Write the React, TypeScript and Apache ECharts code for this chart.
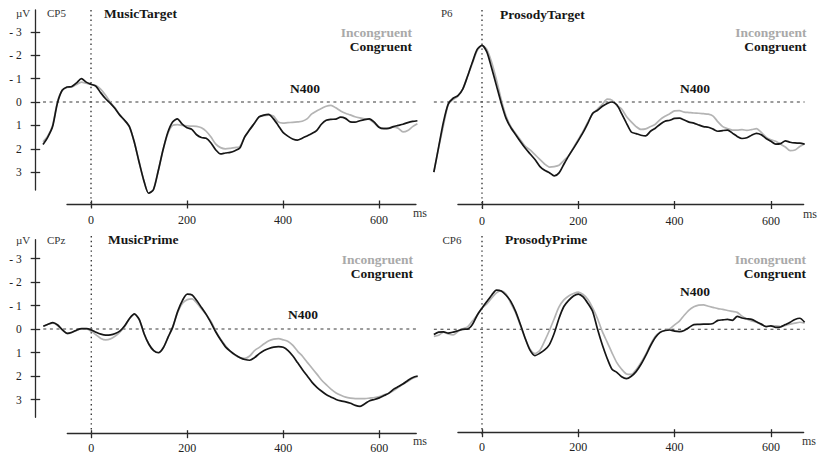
import React, { useEffect, useRef } from "react";
import * as echarts from "echarts";

// ---- sampling of every waveform: -100 ms onward, every 10 ms ----
const T_START = -100;
const T_STEP = 10;

// ---- tick labels ----
const X_TICKS = [0, 200, 400, 600];
const Y_TICKS = [-3, -2, -1, 0, 1, 2, 3];

// ---- MusicTarget (CP5), µV, -100..680 ms ----
const MUSIC_TARGET_CONG = [
  1.82, 1.5, 1.05, 0.05, -0.5, -0.64, -0.66, -0.82, -1.0, -0.85,
  -0.76, -0.68, -0.4, -0.15, 0.05, 0.28, 0.56, 0.78, 1.05, 1.7,
  2.55, 3.35, 3.9, 3.75, 2.95, 2.05, 1.3, 0.85, 0.72, 0.95,
  1.1, 1.17, 1.4, 1.52, 1.55, 1.75, 2.05, 2.22, 2.18, 2.15,
  2.08, 1.97, 1.5, 1.2, 0.92, 0.64, 0.56, 0.53, 0.72, 1.0,
  1.3, 1.46, 1.58, 1.63, 1.55, 1.45, 1.35, 1.22, 0.95, 0.78,
  0.74, 0.73, 0.65, 0.7, 0.85, 0.86, 0.8, 0.75, 0.72, 0.86,
  1.08, 1.14, 1.13, 1.05, 1.0, 0.95, 0.88, 0.83, 0.8,
];
const MUSIC_TARGET_INCONG = [
  1.7, 1.45, 1.0, 0.0, -0.5, -0.62, -0.64, -0.75, -0.85, -0.8,
  -0.75, -0.7, -0.55, -0.3, 0.0, 0.25, 0.55, 0.8, 1.05, 1.7,
  2.55, 3.35, 3.9, 3.75, 2.95, 2.05, 1.35, 1.0, 0.97, 1.0,
  1.02, 1.03, 1.04, 1.1, 1.25, 1.5, 1.8, 1.95, 2.0, 1.98,
  1.95, 1.9, 1.5, 1.2, 0.92, 0.64, 0.58, 0.56, 0.6, 0.85,
  0.9, 0.88, 0.87, 0.85, 0.82, 0.72, 0.51, 0.38, 0.28, 0.18,
  0.14, 0.25, 0.38, 0.48, 0.55, 0.63, 0.68, 0.72, 0.75, 0.9,
  1.08, 1.12, 1.11, 1.07, 1.12, 1.28, 1.22, 1.05, 0.93,
];

// ---- ProsodyTarget (P6), µV, -100..670 ms ----
const PROSODY_TARGET_CONG = [
  3.0, 1.92, 0.85, 0.08, -0.16, -0.27, -0.55, -1.1, -1.7, -2.25,
  -2.42, -2.14, -1.45, -0.7, 0.05, 0.7, 1.1, 1.4, 1.7, 1.98,
  2.22, 2.46, 2.75, 2.92, 3.02, 3.16, 3.03, 2.66, 2.3, 1.98,
  1.65, 1.3, 0.9, 0.48, 0.35, 0.18, 0.06, 0.0, 0.12, 0.5,
  0.9, 1.28, 1.35, 1.42, 1.45, 1.25, 1.12, 0.95, 0.82, 0.78,
  0.7, 0.69, 0.77, 0.86, 0.9, 0.98, 1.05, 1.08, 1.16, 1.25,
  1.22, 1.2, 1.33, 1.47, 1.56, 1.53, 1.42, 1.34, 1.4, 1.56,
  1.68, 1.8, 1.78, 1.66, 1.72, 1.75, 1.76, 1.8,
];
const PROSODY_TARGET_INCONG = [
  3.0, 1.95, 1.0, 0.1, -0.1, -0.25, -0.55, -1.1, -1.65, -2.2,
  -2.42, -2.25, -1.7, -0.95, -0.1, 0.6, 1.05, 1.35, 1.62, 1.9,
  2.05, 2.25, 2.45, 2.65, 2.78, 2.76, 2.7, 2.5, 2.3, 1.95,
  1.6, 1.25, 0.85, 0.5, 0.3, 0.1, -0.12, -0.08, 0.15, 0.3,
  0.62, 0.85, 1.05, 1.17, 1.15, 1.05, 0.95, 0.75, 0.61, 0.5,
  0.38, 0.37, 0.43, 0.45, 0.47, 0.48, 0.5, 0.52, 0.6, 0.85,
  1.05, 1.14, 1.2, 1.2, 1.18, 1.21, 1.18, 1.14, 1.3, 1.5,
  1.61, 1.68, 1.8, 1.92, 2.08, 2.05, 1.9, 1.78,
];

// ---- MusicPrime (CPz), µV, -100..680 ms ----
const MUSIC_PRIME_CONG = [
  -0.12, -0.2, -0.27, -0.17, 0.04, 0.19, 0.14, 0.04, -0.02, -0.02,
  0.04, 0.14, 0.22, 0.26, 0.25, 0.19, 0.08, -0.15, -0.46, -0.64,
  -0.4, 0.2, 0.65, 0.92, 1.01, 0.8, 0.35, -0.1, -0.75, -1.22,
  -1.48, -1.45, -1.2, -0.9, -0.6, -0.24, 0.15, 0.48, 0.77, 0.95,
  1.1, 1.22, 1.3, 1.33, 1.22, 1.05, 0.92, 0.83, 0.77, 0.75,
  0.78, 0.92, 1.15, 1.44, 1.73, 2.0, 2.27, 2.48, 2.65, 2.8,
  2.9, 3.0, 3.06, 3.1, 3.16, 3.25, 3.29, 3.18, 3.05, 3.0,
  2.93, 2.83, 2.73, 2.56, 2.45, 2.33, 2.18, 2.06, 2.0,
];
const MUSIC_PRIME_INCONG = [
  -0.12, -0.2, -0.25, -0.15, 0.05, 0.2, 0.15, 0.05, 0.0, 0.0,
  0.1, 0.25, 0.4, 0.46, 0.42, 0.3, 0.12, -0.12, -0.45, -0.62,
  -0.4, 0.2, 0.65, 0.92, 1.0, 0.8, 0.35, -0.1, -0.72, -1.1,
  -1.25, -1.28, -1.1, -0.85, -0.6, -0.3, 0.12, 0.45, 0.72, 0.95,
  1.12, 1.22, 1.25, 1.15, 0.92, 0.78, 0.63, 0.5, 0.43, 0.41,
  0.46, 0.53, 0.7, 0.95, 1.16, 1.42, 1.67, 1.92, 2.18, 2.38,
  2.57, 2.72, 2.82, 2.9, 2.94, 2.96, 2.96, 2.96, 2.94, 2.92,
  2.88, 2.8, 2.73, 2.62, 2.48, 2.33, 2.22, 2.1, 2.02,
];

// ---- ProsodyPrime (CP6), µV, -100..670 ms ----
const PROSODY_PRIME_CONG = [
  0.22, 0.12, 0.11, 0.16, 0.12, 0.06, 0.0, -0.01, -0.2, -0.6,
  -0.9, -1.18, -1.45, -1.67, -1.63, -1.45, -1.18, -0.75, -0.19, 0.4,
  0.9, 1.12, 1.02, 0.88, 0.65, 0.17, -0.47, -0.97, -1.23, -1.42,
  -1.5, -1.38, -1.1, -0.75, 0.0, 0.67, 1.24, 1.7, 1.83, 2.02,
  2.1, 2.0, 1.8, 1.5, 1.12, 0.7, 0.35, 0.13, 0.05, 0.03,
  0.08, 0.1, 0.05, -0.08, -0.2, -0.21, -0.22, -0.22, -0.25, -0.38,
  -0.4, -0.42, -0.38, -0.55, -0.48, -0.45, -0.42, -0.32, -0.22, -0.11,
  -0.15, -0.08, -0.1, -0.2, -0.3, -0.42, -0.47, -0.3,
];
const PROSODY_PRIME_INCONG = [
  0.3, 0.25, 0.12, 0.2, 0.24, 0.1, -0.02, -0.1, -0.35, -0.6,
  -0.9, -1.08, -1.33, -1.55, -1.64, -1.5, -1.1, -0.7, -0.15, 0.4,
  0.85, 1.03, 0.9, 0.5, 0.05, -0.45, -0.95, -1.25, -1.42, -1.52,
  -1.58, -1.48, -1.27, -0.9, -0.45, 0.1, 0.55, 1.0, 1.42, 1.7,
  1.9, 1.92, 1.72, 1.42, 1.07, 0.65, 0.3, 0.12, 0.05, -0.02,
  -0.19, -0.35, -0.6, -0.82, -0.96, -1.03, -1.04, -0.98, -0.93, -0.88,
  -0.85, -0.8, -0.76, -0.72, -0.56, -0.44, -0.36, -0.3, -0.2, -0.12,
  -0.14, -0.15, -0.12, -0.17, -0.22, -0.26, -0.3, -0.26,
];

const FONT = "'Liberation Serif', 'Times New Roman', Times, serif";
const INK = "#161616";
const AXIS = "#2a2a2a";
const GREY_LINE = "#b4b4b4";
const GREY_TEXT = "#a9a9a9";

type Panel = {
  title: string;
  electrode: string;
  cong: number[];
  incong: number[];
  zeroX: number;
  zeroY: number;
  pxMs: number;
  pxUv: number;
  top: number;
  axisY: number;
  xMax: number;
  labelMargin: number;
  yAxisSpan?: [number, number];
  text: {
    uv?: [number, number];
    elec: [number, number];
    title: [number, number];
    legendRight: number;
    incongY: number;
    congY: number;
    n400: [number, number];
    ms: [number, number];
  };
};

const PANELS: Panel[] = [
  {
    title: "MusicTarget", electrode: "CP5",
    cong: MUSIC_TARGET_CONG, incong: MUSIC_TARGET_INCONG,
    zeroX: 91, zeroY: 102, pxMs: 0.48, pxUv: 23.4, top: 10, axisY: 204, xMax: 677,
    labelMargin: 10, yAxisSpan: [10, 190],
    text: { uv: [16, 12.5], elec: [47, 12.5], title: [104, 13.5], legendRight: 412,
      incongY: 32, congY: 46.5, n400: [290, 88], ms: [413, 213] },
  },
  {
    title: "ProsodyTarget", electrode: "P6",
    cong: PROSODY_TARGET_CONG, incong: PROSODY_TARGET_INCONG,
    zeroX: 482, zeroY: 102, pxMs: 0.4815, pxUv: 23.4, top: 10, axisY: 204.5, xMax: 668,
    labelMargin: 10,
    text: { elec: [441, 13], title: [500, 14], legendRight: 806.5,
      incongY: 32, congY: 46.5, n400: [680, 88], ms: [803, 214] },
  },
  {
    title: "MusicPrime", electrode: "CPz",
    cong: MUSIC_PRIME_CONG, incong: MUSIC_PRIME_INCONG,
    zeroX: 91.3, zeroY: 329, pxMs: 0.48, pxUv: 23.5, top: 236, axisY: 433.7, xMax: 677,
    labelMargin: 8.5, yAxisSpan: [239.7, 417.3],
    text: { uv: [16, 239.5], elec: [47, 239.5], title: [108, 239.5], legendRight: 413,
      incongY: 259, congY: 273.5, n400: [288, 314], ms: [413, 441] },
  },
  {
    title: "ProsodyPrime", electrode: "CP6",
    cong: PROSODY_PRIME_CONG, incong: PROSODY_PRIME_INCONG,
    zeroX: 482, zeroY: 329.3, pxMs: 0.4815, pxUv: 23.5, top: 236, axisY: 432.7, xMax: 668,
    labelMargin: 8.5,
    text: { elec: [442.5, 239.5], title: [505, 239.5], legendRight: 806,
      incongY: 259, congY: 273.5, n400: [680, 291.5], ms: [802, 441] },
  },
];

const toPairs = (vals: number[]) => vals.map((v, i) => [T_START + i * T_STEP, v]);

function txt(x: number, y: number, text: string, o: any = {}) {
  const fs = o.fontSize || 13.5;
  return {
    type: "text",
    x,
    y,
    z: 10,
    silent: true,
    style: {
      text,
      fill: o.fill || INK,
      fontFamily: FONT,
      fontSize: fs,
      fontWeight: o.fontWeight || "normal",
      lineHeight: o.lineHeight || fs,
      textAlign: o.align || "left",
      textVerticalAlign: "middle",
    },
  };
}

function buildOption() {
  const grids: any[] = [];
  const xAxes: any[] = [];
  const yAxes: any[] = [];
  const series: any[] = [];
  const graphics: any[] = [];
  const axisStart = -50;

  PANELS.forEach((p) => {
    const tEnd = T_START + (p.cong.length - 1) * T_STEP;

    // ---- data grid: spans the whole recorded epoch ----
    const gi = grids.length;
    const yMin = (p.top - p.zeroY) / p.pxUv;
    const yMax = (p.axisY - p.zeroY) / p.pxUv;
    grids.push({
      left: p.zeroX + T_START * p.pxMs,
      top: p.top,
      width: (tEnd - T_START) * p.pxMs,
      height: p.axisY - p.top,
      containLabel: false,
      outerBoundsMode: "none",
    });
    const xi = xAxes.length;
    xAxes.push({ type: "value", gridIndex: gi, min: T_START, max: tEnd, show: false, splitLine: { show: false } });
    const yi = yAxes.length;
    yAxes.push({ type: "value", gridIndex: gi, min: yMin, max: yMax, inverse: true, show: false, splitLine: { show: false } });

    // baseline (0 µV)
    series.push({
      type: "line", xAxisIndex: xi, yAxisIndex: yi, data: [[T_START, 0], [tEnd, 0]],
      symbol: "none", clip: false, silent: true, z: 1,
      lineStyle: { color: "#3a3a3a", width: 1.1, type: [3, 3.6] },
    });
    // stimulus onset (0 ms)
    series.push({
      type: "line", xAxisIndex: xi, yAxisIndex: yi,
      data: [[0, yMin], [0, (p.axisY + 3 - p.zeroY) / p.pxUv]],
      symbol: "none", clip: false, silent: true, z: 1,
      lineStyle: { color: "#3a3a3a", width: 1.4, type: [1.4, 3.4] },
    });
    series.push({
      name: "Incongruent", type: "line", xAxisIndex: xi, yAxisIndex: yi, data: toPairs(p.incong),
      symbol: "none", showSymbol: false, clip: false, smooth: 0.25, z: 2,
      lineStyle: { color: GREY_LINE, width: 1.7 },
    });
    series.push({
      name: "Congruent", type: "line", xAxisIndex: xi, yAxisIndex: yi, data: toPairs(p.cong),
      symbol: "none", showSymbol: false, clip: false, smooth: 0.25, z: 3,
      lineStyle: { color: INK, width: 1.7 },
    });

    // ---- time axis grid: the drawn axis starts at -50 ms ----
    const ga = grids.length;
    grids.push({
      left: p.zeroX + axisStart * p.pxMs,
      top: p.axisY - 10,
      width: (p.xMax - axisStart) * p.pxMs,
      height: 10,
      containLabel: false,
      outerBoundsMode: "none",
    });
    yAxes.push({ type: "value", gridIndex: ga, min: 0, max: 1, show: false });
    xAxes.push({
      type: "value", gridIndex: ga, position: "bottom", min: axisStart, max: p.xMax,
      axisLine: { show: true, onZero: false, lineStyle: { color: AXIS, width: 1.3 } },
      axisTick: { show: true, length: 4.5, customValues: X_TICKS, lineStyle: { color: AXIS, width: 1.3 } },
      axisLabel: { show: true, customValues: X_TICKS, margin: p.labelMargin, fontFamily: FONT, fontSize: 12, color: "#222" },
      splitLine: { show: false },
    });
    xAxes.push({
      type: "value", gridIndex: ga, position: "bottom", min: axisStart, max: p.xMax,
      axisLine: { show: false, onZero: false },
      axisTick: { show: true, inside: true, length: 3.5, customValues: X_TICKS, lineStyle: { color: AXIS, width: 1.3 } },
      axisLabel: { show: false },
      splitLine: { show: false },
    });

    // ---- amplitude axis (left panels only) ----
    if (p.yAxisSpan) {
      const [yt, yb] = p.yAxisSpan;
      const gy = grids.length;
      grids.push({ left: 35.7, top: yt, width: 10, height: yb - yt, containLabel: false, outerBoundsMode: "none" });
      xAxes.push({ type: "value", gridIndex: gy, min: 0, max: 1, show: false });
      const ymin2 = (yt - p.zeroY) / p.pxUv;
      const ymax2 = (yb - p.zeroY) / p.pxUv;
      yAxes.push({
        type: "value", gridIndex: gy, position: "left", inverse: true, min: ymin2, max: ymax2,
        axisLine: { show: true, onZero: false, lineStyle: { color: AXIS, width: 1.3 } },
        axisTick: { show: true, length: 5, customValues: Y_TICKS, lineStyle: { color: AXIS, width: 1.3 } },
        axisLabel: {
          show: true, customValues: Y_TICKS, margin: 14, fontFamily: FONT, fontSize: 11.5, color: "#222",
          formatter: (v: number) => (v < 0 ? "- " + Math.abs(v) : String(v)),
        },
        splitLine: { show: false },
      });
      yAxes.push({
        type: "value", gridIndex: gy, position: "left", inverse: true, min: ymin2, max: ymax2,
        axisLine: { show: false, onZero: false },
        axisTick: { show: true, inside: true, length: 4.5, customValues: Y_TICKS, lineStyle: { color: AXIS, width: 1.3 } },
        axisLabel: { show: false },
        splitLine: { show: false },
      });
    }

    const t = p.text;
    if (t.uv) graphics.push(txt(t.uv[0], t.uv[1], "µV", { fontSize: 11, fill: "#333" }));
    graphics.push(txt(t.elec[0], t.elec[1], p.electrode, { fontSize: 11, fill: "#333" }));
    graphics.push(txt(t.title[0], t.title[1], p.title, { fontWeight: "bold" }));
    graphics.push(txt(t.legendRight, t.incongY, "Incongruent", { fontWeight: "bold", fill: GREY_TEXT, align: "right", lineHeight: 12 }));
    graphics.push(txt(t.legendRight, t.congY, "Congruent", { fontWeight: "bold", align: "right", lineHeight: 12 }));
    graphics.push(txt(t.n400[0], t.n400[1], "N400", { fontWeight: "bold" }));
    graphics.push(txt(t.ms[0], t.ms[1], "ms", { fontSize: 12, fill: "#333" }));
  });

  return {
    animation: false,
    backgroundColor: "#ffffff",
    grid: grids,
    xAxis: xAxes,
    yAxis: yAxes,
    series,
    graphic: graphics,
  };
}

export default function App() {
  const ref = useRef<HTMLDivElement>(null);
  useEffect(() => {
    if (!ref.current) return;
    const chart = echarts.init(ref.current, undefined, { renderer: "svg" });
    chart.setOption(buildOption() as any);
    return () => chart.dispose();
  }, []);
  return (
    <div
      ref={ref}
      style={{ position: "absolute", left: 0, top: 0, width: 819, height: 456, background: "#fff" }}
    />
  );
}
